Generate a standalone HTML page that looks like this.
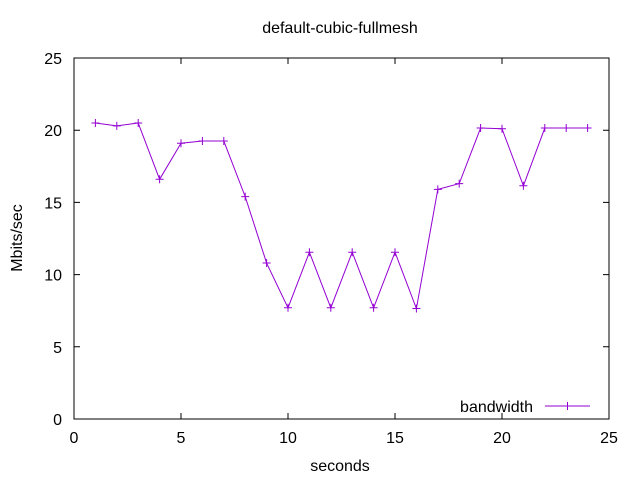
<!DOCTYPE html>
<html><head><meta charset="utf-8"><style>
body{margin:0;background:#fff;}
svg text{font-family:"Liberation Sans",sans-serif;font-size:16px;fill:#000;}
</style></head><body>
<svg id="chart" width="640" height="480" viewBox="0 0 640 480">
<rect width="640" height="480" fill="#fff"/>
<text x="340" y="33" text-anchor="middle">default-cubic-fullmesh</text>
<text x="340" y="471" text-anchor="middle">seconds</text>
<text transform="translate(22,238) rotate(-90)" text-anchor="middle">Mbits/sec</text>
<g id="axes"></g>
<g id="series"></g>
<g>
<text x="533" y="412" text-anchor="end">bandwidth</text>
<line x1="545" y1="406" x2="590" y2="406" stroke="#9400d3" stroke-width="1"/>
<path d="M563.5,406h8M567.5,402v8" stroke="#9400d3"/>
</g>
</svg>
<script>
const xValues=[1,2,3,4,5,6,7,8,9,10,11,12,13,14,15,16,17,18,19,20,21,22,23,24];
const bandwidth=[20.5,20.3,20.5,16.6,19.1,19.25,19.25,15.4,10.8,7.7,11.55,7.7,11.55,7.7,11.55,7.65,15.9,16.3,20.15,20.1,16.15,20.15,20.15,20.15];
const xTicks=[0,5,10,15,20,25];
const yTicks=[0,5,10,15,20,25];
const L=74,R=609,T=58,B=419;
const xs=v=>L+(v/25)*(R-L);
const ys=v=>B-(v/25)*(B-T);
const NS="http://www.w3.org/2000/svg";
const axes=document.getElementById('axes');
const series=document.getElementById('series');
function mk(tag,attrs,parent){const e=document.createElementNS(NS,tag);for(const k in attrs)e.setAttribute(k,attrs[k]);parent.appendChild(e);return e;}
const frame=mk('rect',{x:L,y:T,width:R-L,height:B-T,fill:'none',stroke:'#000','stroke-width':1},axes);


xTicks.forEach(t=>{
  const x=xs(t);
  const tk=mk('path',{d:`M${x},${B}v-6M${x},${T}v6`,stroke:'#000'},axes);
  
  
  const tx=mk('text',{x:x,y:B+24,'text-anchor':'middle'},axes);tx.textContent=t;
  
  
});
yTicks.forEach(t=>{
  const y=ys(t);
  const tk=mk('path',{d:`M${L},${y}h6M${R},${y}h-6`,stroke:'#000'},axes);
  
  
  const tx=mk('text',{x:L-12,y:y+6,'text-anchor':'end'},axes);tx.textContent=t;
  
  
});
const pts=xValues.map((v,i)=>[xs(v),ys(bandwidth[i])]);
const line=mk('polyline',{points:pts.map(p=>p.join(',')).join(' '),fill:'none',stroke:'#9400d3','stroke-width':1},series);


pts.forEach(p=>{
  const m=mk('path',{d:`M${p[0]-4},${p[1]}h8M${p[0]},${p[1]-4}v8`,stroke:'#9400d3'},series);
  
  
});
</script>
</body></html>
